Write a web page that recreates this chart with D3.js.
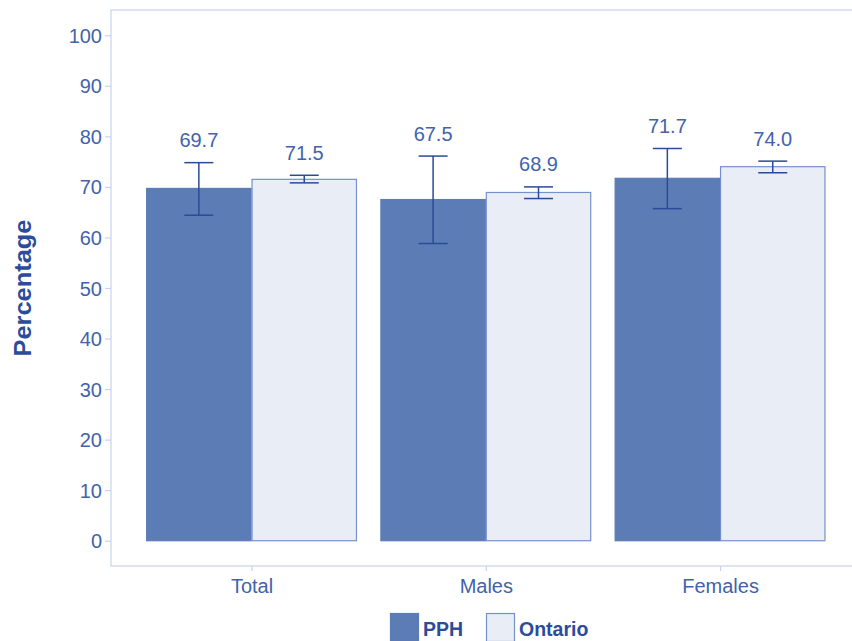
<!DOCTYPE html>
<html>
<head>
<meta charset="utf-8">
<script src="https://cdn.jsdelivr.net/npm/d3@7"></script>
<style>
  html, body { margin: 0; padding: 0; background: #ffffff; }
  svg { display: block; font-family: "Liberation Sans", Arial, sans-serif; }
</style>
</head>
<body>
<svg id="chart" width="852" height="641"></svg>
<script>
// Groups and series
const categories = ["Total", "Males", "Females"];
const seriesNames = ["PPH", "Ontario"];

// Percent values with 95% confidence limits
const pphValues     = [69.7, 67.5, 71.7];
const pphLower      = [64.4, 58.8, 65.7];
const pphUpper      = [74.8, 76.1, 77.6];
const ontarioValues = [71.5, 68.9, 74.0];
const ontarioLower  = [70.8, 67.7, 72.8];
const ontarioUpper  = [72.3, 70.0, 75.1];

const yTicks = [0, 10, 20, 30, 40, 50, 60, 70, 80, 90, 100];

const colors = {
  PPH:     { fill: "#5c7cb6", stroke: "#5c7cb6" },
  Ontario: { fill: "#e9edf6", stroke: "#7590ca" }
};
const textColor = "#4163ab";
const titleColor = "#2b4c9b";
const errColor = "#2a4b98";
const frameColor = "#c8d2ec";

const rows = [];
categories.forEach((c, i) => {
  rows.push({ cat: c, series: "PPH", value: pphValues[i], lo: pphLower[i], hi: pphUpper[i] });
  rows.push({ cat: c, series: "Ontario", value: ontarioValues[i], lo: ontarioLower[i], hi: ontarioUpper[i] });
});

const svg = d3.select("#chart");

// Panel geometry: discrete axis with 0.6-band padding on each side
const step = 234.25;
const panelLeft = 111;
const panelTop = 10;
const panelBottom = 566;
const panelRight = panelLeft + step * (categories.length - 1 + 1.2);

const x = d3.scalePoint()
  .domain(categories)
  .range([panelLeft + 0.6 * step, panelRight - 0.6 * step]);

const xInner = d3.scaleBand()
  .domain(seriesNames)
  .range([-0.45 * step, 0.45 * step])
  .padding(0);

const y = d3.scaleLinear()
  .domain([-5, 105])
  .range([panelBottom, panelTop]);

// Panel frame
svg.append("rect")
  .attr("x", panelLeft).attr("y", panelTop)
  .attr("width", panelRight - panelLeft).attr("height", panelBottom - panelTop)
  .attr("fill", "none").attr("stroke", frameColor).attr("stroke-width", 1.2);

// Y axis
const yAxis = d3.axisLeft(y).tickValues(yTicks).tickSize(6).tickPadding(3);
const gy = svg.append("g").attr("transform", `translate(${panelLeft},0)`).call(yAxis);
gy.select(".domain").remove();
gy.selectAll(".tick line").attr("stroke", frameColor).attr("stroke-width", 1.2);
gy.selectAll(".tick text")
  .attr("fill", textColor).style("font-size", "20px")
  .attr("dy", "0.35em");

// X axis
const xAxis = d3.axisBottom(x).tickSize(5).tickPadding(5);
const gx = svg.append("g").attr("transform", `translate(0,${panelBottom})`).call(xAxis);
gx.select(".domain").remove();
gx.selectAll(".tick line").attr("stroke", frameColor).attr("stroke-width", 1.2);
gx.selectAll(".tick text")
  .attr("fill", textColor).style("font-size", "20px")
  .attr("dy", "0.85em");

// Bars
svg.append("g").selectAll("rect")
  .data(rows)
  .join("rect")
  .attr("x", d => x(d.cat) + xInner(d.series) + 0.5)
  .attr("y", d => y(d.value))
  .attr("width", xInner.bandwidth() - 1)
  .attr("height", d => y(0) - y(d.value))
  .attr("fill", d => colors[d.series].fill)
  .attr("stroke", d => colors[d.series].stroke)
  .attr("stroke-width", 1.2);

// Error bars
const capHalf = 14.5;
const eb = svg.append("g").attr("stroke", errColor).attr("stroke-width", 1.5).attr("fill", "none");
rows.forEach(d => {
  const cx = x(d.cat) + xInner(d.series) + xInner.bandwidth() / 2;
  eb.append("line").attr("x1", cx).attr("x2", cx).attr("y1", y(d.lo)).attr("y2", y(d.hi));
  eb.append("line").attr("x1", cx - capHalf).attr("x2", cx + capHalf).attr("y1", y(d.hi)).attr("y2", y(d.hi));
  eb.append("line").attr("x1", cx - capHalf).attr("x2", cx + capHalf).attr("y1", y(d.lo)).attr("y2", y(d.lo));
});

// Value labels above the upper limits
svg.append("g").selectAll("text")
  .data(rows)
  .join("text")
  .attr("x", d => x(d.cat) + xInner(d.series) + xInner.bandwidth() / 2)
  .attr("y", d => y(d.hi) - 15.5)
  .attr("text-anchor", "middle")
  .attr("fill", textColor)
  .style("font-size", "20px")
  .text(d => d.value.toFixed(1));

// Y axis title
svg.append("text")
  .attr("transform", "translate(31,288) rotate(-90)")
  .attr("text-anchor", "middle")
  .attr("fill", titleColor)
  .style("font-size", "23px")
  .style("font-weight", "bold")
  .attr("textLength", 137)
  .attr("lengthAdjust", "spacingAndGlyphs")
  .text("Percentage");

// Legend
const legend = svg.append("g");
const legendItems = [
  { name: "PPH", keyX: 390.5, textX: 423 },
  { name: "Ontario", keyX: 486.5, textX: 519 }
];
legendItems.forEach(it => {
  legend.append("rect")
    .attr("x", it.keyX).attr("y", 613.5)
    .attr("width", 28).attr("height", 28)
    .attr("fill", colors[it.name].fill)
    .attr("stroke", colors[it.name].stroke)
    .attr("stroke-width", 1.2);
  legend.append("text")
    .attr("x", it.textX).attr("y", 636)
    .attr("fill", titleColor)
    .style("font-size", "19.5px")
    .style("font-weight", "bold")
    .text(it.name);
});
</script>
</body>
</html>
